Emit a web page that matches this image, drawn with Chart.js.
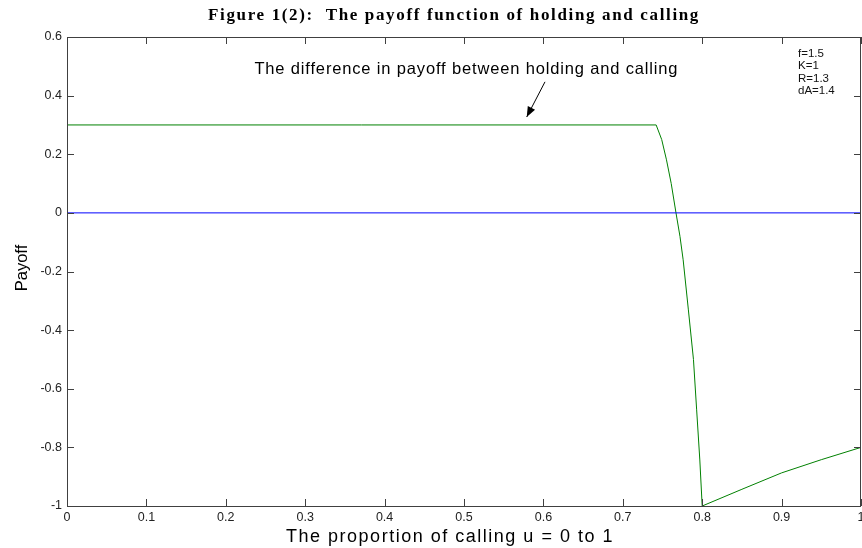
<!DOCTYPE html>
<html>
<head>
<meta charset="utf-8">
<script src="https://cdn.jsdelivr.net/npm/chart.js@4.4.1/dist/chart.umd.min.js"></script>
<style>
  html, body { margin: 0; padding: 0; background: #fff; }
  #wrap { width: 862px; height: 548px; }
</style>
</head>
<body>
<div id="wrap"><canvas id="myChart"></canvas></div>
<script>
// tick values and labels
const xTicks = [0, 0.1, 0.2, 0.3, 0.4, 0.5, 0.6, 0.7, 0.8, 0.9, 1];
const xTickLabels = ["0", "0.1", "0.2", "0.3", "0.4", "0.5", "0.6", "0.7", "0.8", "0.9", "1"];
const yTicks = [-1, -0.8, -0.6, -0.4, -0.2, 0, 0.2, 0.4, 0.6];
const yTickLabels = ["-1", "-0.8", "-0.6", "-0.4", "-0.2", "0", "0.2", "0.4", "0.6"];

// difference in payoff (green)
const diffU = [0, 0.742, 0.749, 0.755, 0.761, 0.767, 0.772, 0.776, 0.7826, 0.789, 0.793, 0.797, 0.8, 0.85, 0.9, 0.95, 1];
const diffPayoff = [0.3, 0.3, 0.25, 0.181, 0.1, 0, -0.08, -0.16, -0.331, -0.5, -0.672, -0.843, -1, -0.943, -0.887, -0.842, -0.8];

// zero line (blue)
const zeroU = [0, 1];
const zeroPayoff = [0, 0];

const params = ["f=1.5", "K=1", "R=1.3", "dA=1.4"];
const titleText = "Figure 1(2):  The payoff function of holding and calling";
const noteText = "The difference in payoff between holding and calling";
const xTitle = "The proportion of calling u = 0 to 1";
const yTitle = "Payoff";

const toPoints = (xs, ys) => xs.map((x, i) => ({ x: x, y: ys[i] }));

const axisColor = "#404040";

// draw text stretched to a given width with letter spacing
function spreadText(ctx, text, cx, y, width) {
  ctx.letterSpacing = "0px";
  const w = ctx.measureText(text).width;
  const sp = (width - w) / text.length;
  ctx.letterSpacing = sp + "px";
  ctx.textAlign = "left";
  ctx.fillText(text, cx - width / 2, y);
  ctx.letterSpacing = "0px";
}

const decor = {
  id: "decor",
  afterDraw(chart) {
    const ctx = chart.ctx;
    const a = chart.chartArea;
    const xs = chart.scales.x;
    const ys = chart.scales.y;
    ctx.save();

    // box
    ctx.strokeStyle = axisColor;
    ctx.lineWidth = 1;
    ctx.strokeRect(Math.round(a.left) + 0.5, Math.round(a.top) + 0.5,
      Math.round(a.right - a.left) - 1, Math.round(a.bottom - a.top));

    // inward ticks on all sides
    const tl = 7;
    ctx.beginPath();
    xTicks.forEach((v) => {
      const px = Math.round(xs.getPixelForValue(v)) + 0.5;
      ctx.moveTo(px, a.bottom);
      ctx.lineTo(px, a.bottom - tl);
      ctx.moveTo(px, a.top);
      ctx.lineTo(px, a.top + tl);
    });
    yTicks.forEach((v) => {
      const py = Math.round(ys.getPixelForValue(v)) + 0.5;
      ctx.moveTo(a.left, py);
      ctx.lineTo(a.left + tl, py);
      ctx.moveTo(a.right, py);
      ctx.lineTo(a.right - tl, py);
    });
    ctx.stroke();

    // title
    ctx.fillStyle = "#000";
    ctx.textBaseline = "alphabetic";
    ctx.font = 'bold 17px "Liberation Serif"';
    spreadText(ctx, titleText, 454, 20, 492);

    // axis titles
    ctx.font = '18px "Liberation Sans"';
    spreadText(ctx, xTitle, 450, 542, 328);
    ctx.save();
    ctx.translate(27, 268);
    ctx.rotate(-Math.PI / 2);
    ctx.font = '16.5px "Liberation Sans"';
    ctx.textAlign = "center";
    ctx.fillText(yTitle, 0, 0);
    ctx.restore();

    // annotation text and arrow
    ctx.font = '16.5px "Liberation Sans"';
    spreadText(ctx, noteText, xs.getPixelForValue(0.503), ys.getPixelForValue(0.474), 424);
    const x1 = xs.getPixelForValue(0.602), y1 = ys.getPixelForValue(0.447);
    const x2 = xs.getPixelForValue(0.579), y2 = ys.getPixelForValue(0.327);
    ctx.strokeStyle = "#000";
    ctx.beginPath();
    ctx.moveTo(x1, y1);
    ctx.lineTo(x2, y2);
    ctx.stroke();
    const ang = Math.atan2(y2 - y1, x2 - x1);
    const hl = 11, hw = 0.38;
    ctx.beginPath();
    ctx.moveTo(x2, y2);
    ctx.lineTo(x2 - hl * Math.cos(ang - hw), y2 - hl * Math.sin(ang - hw));
    ctx.lineTo(x2 - hl * Math.cos(ang + hw), y2 - hl * Math.sin(ang + hw));
    ctx.closePath();
    ctx.fillStyle = "#000";
    ctx.fill();

    // parameter text
    ctx.font = '11.5px "Liberation Sans"';
    ctx.fillStyle = "#111";
    ctx.textAlign = "left";
    params.forEach((t, i) => {
      ctx.fillText(t, 798, 57 + i * 12.3);
    });

    ctx.restore();
  },
};

const ctx = document.getElementById("myChart");

const myChart = new Chart(ctx, {
  type: "line",
  data: {
    datasets: [
      {
        label: "zero",
        data: toPoints(zeroU, zeroPayoff),
        borderColor: "#0000ff",
        borderWidth: 1,
        pointRadius: 0,
        tension: 0,
      },
      {
        label: "difference",
        data: toPoints(diffU, diffPayoff),
        borderColor: "#008000",
        borderWidth: 1,
        pointRadius: 0,
        tension: 0,
      },
    ],
  },
  options: {
    responsive: true,
    maintainAspectRatio: false,
    animation: false,
    devicePixelRatio: 1,
    layout: { padding: { top: 37, right: 1, left: 0, bottom: 0 } },
    plugins: {
      legend: { display: false },
      tooltip: { enabled: false },
      title: { display: false },
    },
    scales: {
      x: {
        type: "linear",
        min: 0,
        max: 1,
        afterBuildTicks: (scale) => {
          scale.ticks = xTicks.map((v) => ({ value: v }));
        },
        afterFit: (scale) => {
          scale.height = 42;
          scale.paddingLeft = 0;
          scale.paddingRight = 0;
        },
        grid: { display: false, drawTicks: false },
        border: { display: false },
        ticks: {
          padding: 4,
          maxRotation: 0,
          color: "#222",
          font: { family: "Liberation Sans", size: 12.5 },
          callback: (v, i) => xTickLabels[i],
        },
      },
      y: {
        type: "linear",
        min: -1,
        max: 0.6,
        afterBuildTicks: (scale) => {
          scale.ticks = yTicks.map((v) => ({ value: v }));
        },
        afterFit: (scale) => {
          scale.width = 67;
          scale.paddingTop = 0;
          scale.paddingBottom = 0;
        },
        grid: { display: false, drawTicks: false },
        border: { display: false },
        ticks: {
          padding: 5,
          color: "#222",
          font: { family: "Liberation Sans", size: 12.5 },
          callback: (v, i) => yTickLabels[i],
        },
      },
    },
  },
  plugins: [decor],
});
</script>
</body>
</html>
